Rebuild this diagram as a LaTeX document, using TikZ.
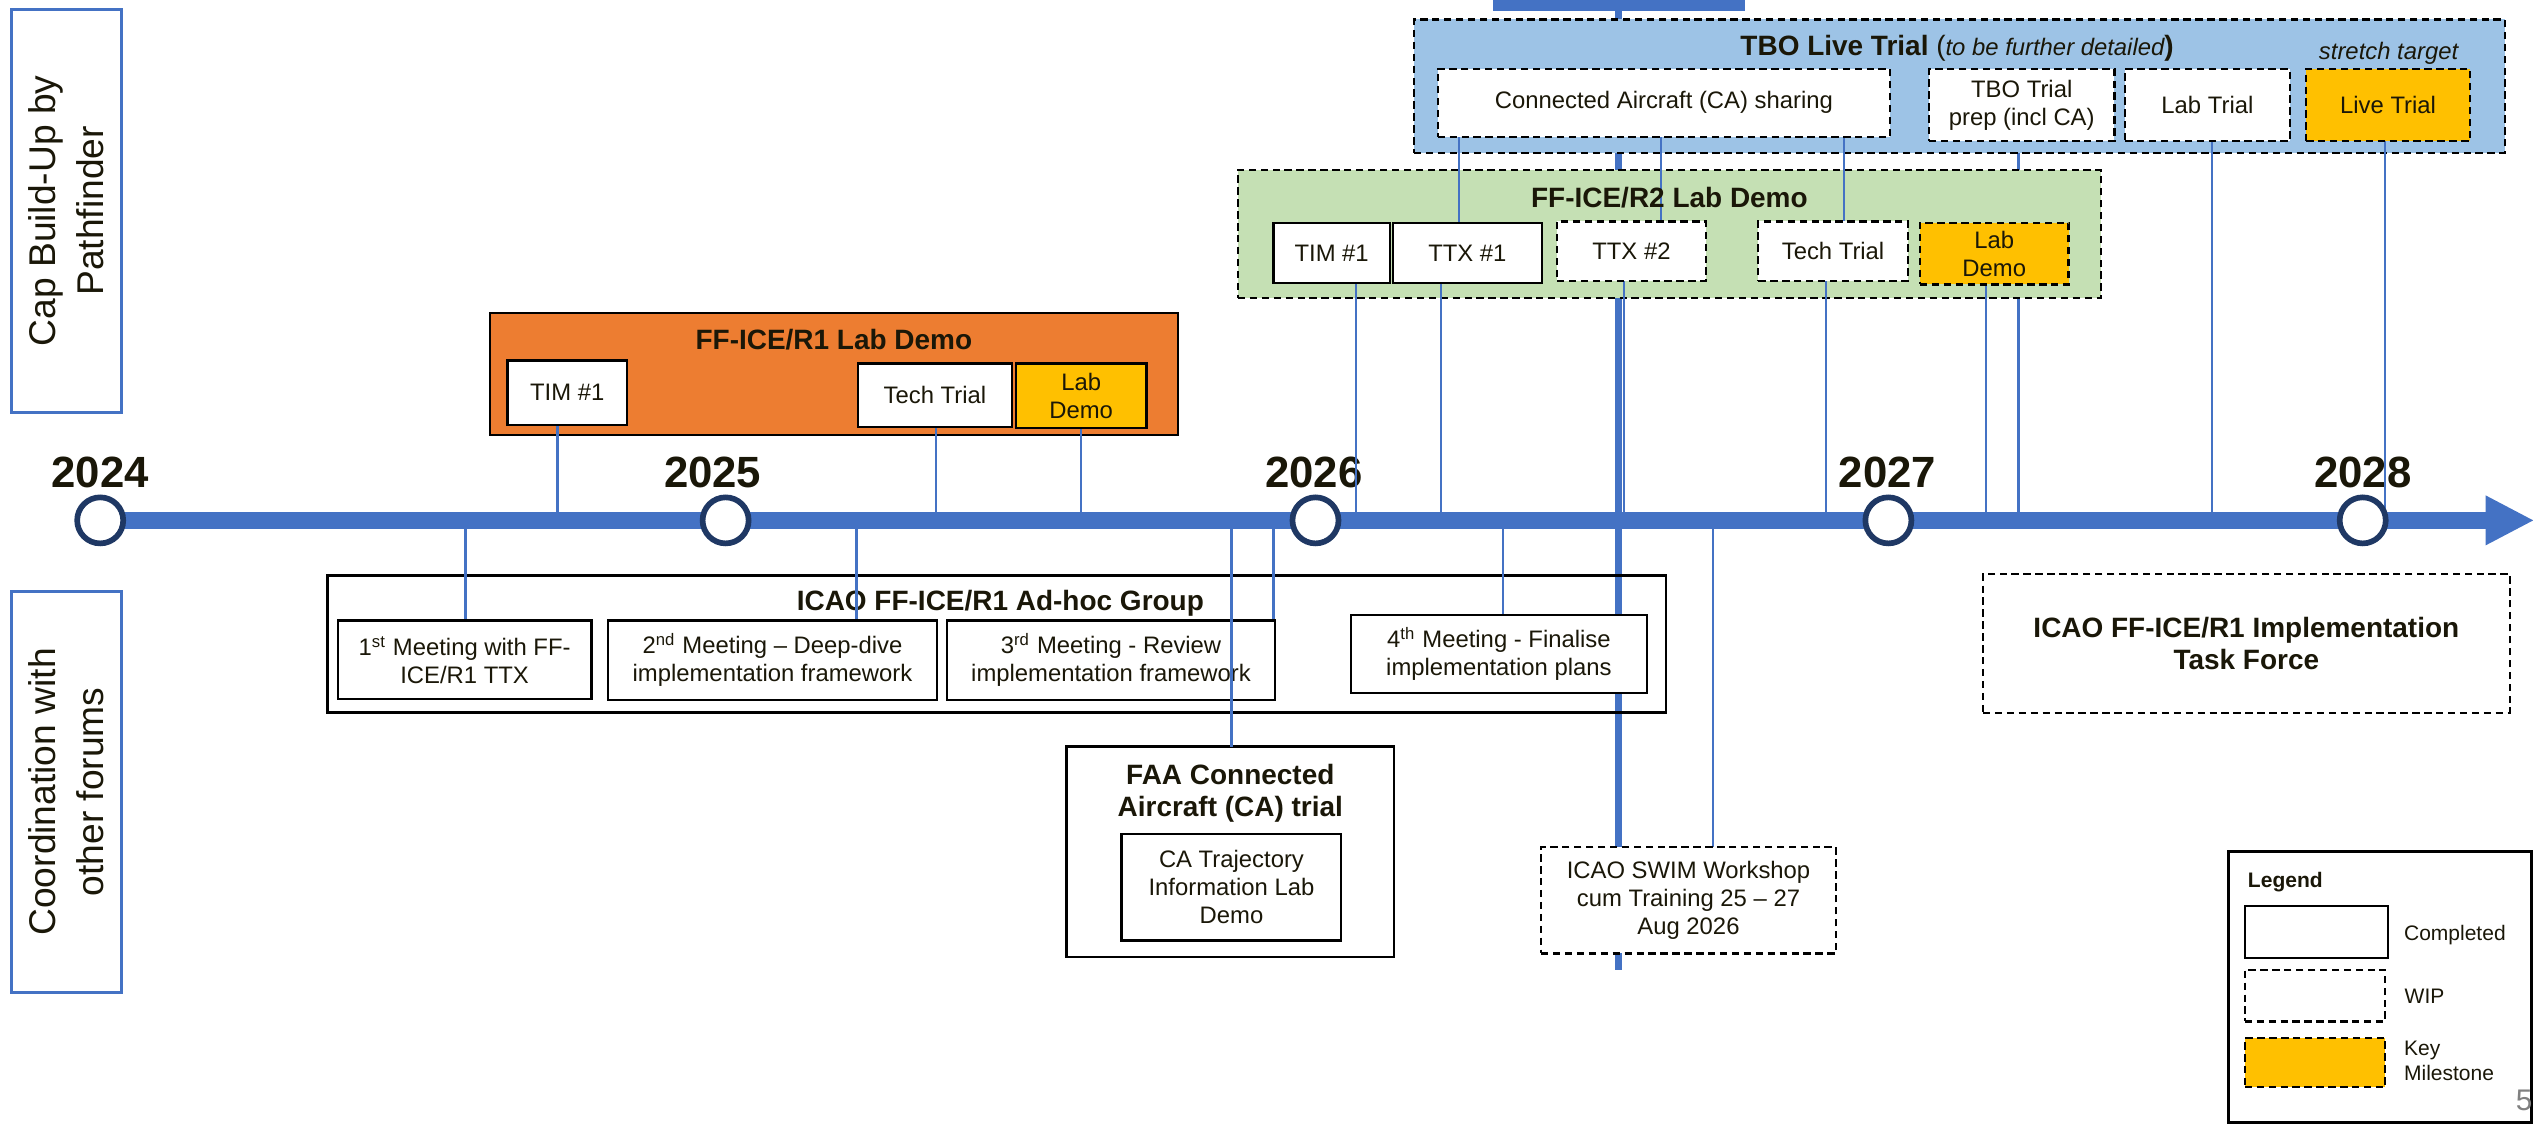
\documentclass[tikz,border=0pt]{standalone}
\usepackage{fontspec}
\setmainfont{Liberation Sans}
\definecolor{lineblue}{HTML}{4472C4}
\definecolor{navy}{HTML}{1F3864}
\definecolor{orng}{HTML}{ED7D31}
\definecolor{gold}{HTML}{FFC000}
\definecolor{ltblue}{HTML}{9DC3E6}
\definecolor{ltgreen}{HTML}{C5E0B4}
\definecolor{txt}{HTML}{1A1708}
\newcommand{\fReg}{\fontsize{8.4pt}{9.85pt}\selectfont}
\newcommand{\fHead}{\fontsize{9.85pt}{11.4pt}\selectfont\bfseries}
\newcommand{\fYear}{\fontsize{15.4pt}{17pt}\selectfont\bfseries}
\newcommand{\fSide}{\fontsize{13.1pt}{16.8pt}\selectfont}
\newcommand{\fLeg}{\fontsize{7.4pt}{8.8pt}\selectfont}
\pgfdeclarelayer{l0}
\pgfdeclarelayer{l1}
\pgfdeclarelayer{l2}
\pgfdeclarelayer{l4}
\pgfsetlayers{l0,l1,l2,main,l4}
\tikzset{
 wh/.style 2 args={minimum width=#1*0.02cm, minimum height=#2*0.02cm},
 base/.style={rectangle, inner sep=0pt, outer sep=0pt, text=txt, align=center, font=\fReg},
 done/.style={base, draw=black, fill=white, line width=0.8pt},
 wip/.style={base, draw=black, fill=white, line width=0.8pt, dash pattern=on 2.6pt off 1.6pt},
 mswip/.style={wip, fill=gold},
 msdone/.style={done, fill=gold},
 txtl/.style={inner sep=0pt, outer sep=0pt, text=txt, align=center},
 conn/.style={draw=lineblue, line width=0.75pt},
 todayl/.style={draw=lineblue, line width=2.45pt},
 sidebox/.style={base, draw=lineblue, fill=white, line width=1pt, font=\fSide, rotate=90},
 yearc/.style={circle, draw=navy, fill=white, line width=2pt, minimum size=28.5*0.02cm, inner sep=0pt},
 yearl/.style={txtl, font=\fYear},
}
\begin{document}
\begin{tikzpicture}[x=0.02cm,y=-0.02cm]
\useasboundingbox (0,0) rectangle (1568,696);
\coordinate (tl) at (0,322);
\coordinate (tlstart) at (62,322);
\coordinate (tipbase) at (1539,322);

% side labels
\node[sidebox, wh={249}{68}] (capL) at (41,130.5) {Cap Build-Up by\\Pathfinder};
\node[sidebox, wh={248}{68}] (coordL) at (41,490) {Coordination with\\other forums};

% TBO inner
\node[wip, wh={280}{42}] (ca) at (1029.6,63.6) {Connected Aircraft (CA) sharing};
\node[wip, wh={114.7}{44.6}] (prep) at (1251,65) {TBO Trial\\prep (incl CA)};
\node[wip, wh={101.8}{44.6}] (labtr) at (1365.9,65) {Lab Trial};
\node[mswip, wh={101.4}{44.6}] (livetr) at (1477.7,65) {Live Trial};
\node[txtl, font=\fReg\itshape] (stretch) at (1478,33) {stretch target};
\node[txtl, font=\fHead] (tbot) at (1211,30) {TBO Live Trial {\mdseries(}{\fReg\mdseries\itshape to be further detailed})};

% R2 inner
\node[done, wh={72}{37}] (r2tim) at (824,156.5) {TIM \#1};
\node[done, wh={92}{37}] (r2ttx1) at (908,156.5) {TTX \#1};
\node[wip, wh={92}{37}] (r2ttx2) at (1009.5,155.5) {TTX \#2};
\node[wip, wh={92.5}{37}] (r2tech) at (1134.25,155.5) {Tech Trial};
\node[mswip, wh={92}{38}] (r2lab) at (1234,157) {Lab\\Demo};
\node[txtl, font=\fHead] (r2t) at (1033,122.6) {FF-ICE/R2 Lab Demo};

% R1 inner
\node[done, wh={74}{40}] (r1tim) at (351,243) {TIM \#1};
\node[done, wh={95}{39}] (r1tech) at (578.5,244.5) {Tech Trial};
\node[msdone, wh={81}{40}] (r1lab) at (669,245) {Lab\\Demo};
\node[txtl, font=\fHead] (r1t) at (516,210.4) {FF-ICE/R1 Lab Demo};

% meetings
\node[done, wh={157}{48.6}] (m1) at (287.5,408.3) {1\textsuperscript{st} Meeting with FF-\\ICE/R1 TTX};
\node[done, wh={204}{49}] (m2) at (478,408.5) {2\textsuperscript{nd} Meeting – Deep-dive\\implementation framework};
\node[done, wh={203}{49}] (m3) at (687.5,408.5) {3\textsuperscript{rd} Meeting - Review\\implementation framework};
\node[done, wh={183}{48.4}] (m4) at (927.5,404.8) {4\textsuperscript{th} Meeting - Finalise\\implementation plans};

% FAA
\node[done, wh={202.6}{130}] (faa) at (761.3,527) {};
\node[txtl, font=\fHead] (faat) at (761.3,491) {FAA Connected\\Aircraft (CA) trial};
\node[done, wh={136}{66}] (faain) at (762,549) {CA Trajectory\\Information Lab\\Demo};

% SWIM
\node[wip, wh={182.4}{66}] (swim) at (1044.8,557) {ICAO SWIM Workshop\\cum Training 25 – 27\\Aug 2026};

% Task force
\node[wip, wh={326}{86}, font=\fHead] (itf) at (1390,398) {ICAO FF-ICE/R1 Implementation\\Task Force};

% Legend
\node[base, draw=black, fill=white, line width=1pt, wh={187.6}{167.7}] (leg) at (1472.8,610.9) {};
\node[txtl, font=\fLeg\bfseries, anchor=west] (legt) at (1391,545.6) {Legend};
\node[done, wh={88.5}{32.4}] (sw1) at (1433.25,576.8) {};
\node[wip, wh={87}{32}] (sw2) at (1432.5,616) {};
\node[mswip, wh={87}{30.2}] (sw3) at (1432.5,657.6) {};
\node[txtl, font=\fLeg, anchor=west] (lg1) at (1487.6,578.6) {Completed};
\node[txtl, font=\fLeg, anchor=west] (lg2) at (1488,616.7) {WIP};
\node[txtl, font=\fLeg, anchor=west, align=left] (lg3) at (1487.6,656.2) {Key\\Milestone};
\node[txtl, text=gray, font=\fontsize{10.5pt}{12pt}\selectfont, anchor=east] (pg) at (1567,681) {5};

% timeline
\draw[lineblue, line width=5.9pt] (tlstart) -- (tipbase);
\fill[lineblue] (1538,306.5) -- (1567.5,322) -- (1538,337.5) -- cycle;
\node[yearc] (y2024) at (62,322) {};
\node[yearc] (y2025) at (449,322) {};
\node[yearc] (y2026) at (814,322) {};
\node[yearc] (y2027) at (1168.5,322) {};
\node[yearc] (y2028) at (1462,322) {};

\begin{pgfonlayer}{l1}
\node[base, draw=black, fill=ltblue, line width=0.8pt, dash pattern=on 2.6pt off 1.6pt, wh={675}{82.5}] (tbo) at (1212.5,53.25) {};
\node[base, draw=black, fill=ltgreen, line width=0.8pt, dash pattern=on 2.6pt off 1.6pt, wh={534}{79.6}] (r2) at (1033,144.8) {};
\node[base, draw=black, fill=orng, line width=0.8pt, wh={426}{75.5}] (r1) at (516,231.25) {};
\node[base, draw=black, line width=0.9pt, wh={828.5}{85}] (adhoc) at (616.75,398.5) {};
\node[txtl, font=\fHead] (adt) at (619,373) {ICAO FF-ICE/R1 Ad-hoc Group};
\node[yearl] (l2024) at (62,292.4) {2024};
\node[yearl] (l2025) at (441,292.4) {2025};
\node[yearl] (l2026) at (813,292.4) {2026};
\node[yearl] (l2027) at (1168,292.4) {2027};
\node[yearl] (l2028) at (1462,292.4) {2028};
\end{pgfonlayer}

\begin{pgfonlayer}{l0}
\node[base, fill=lineblue, wh={156}{7}] (today) at (1002,3.5) {};
\coordinate (todayend) at (1001.5,600);
\draw[todayl] (1001.5,0 |- today.south) -- (todayend);
\draw[conn] (1249,0 |- prep.south) -- (1249,0 |- tl);
\end{pgfonlayer}

\begin{pgfonlayer}{l2}
\draw[conn] (903,0 |- ca.south) -- (903,0 |- r2ttx1.north);
\draw[conn] (1028,0 |- ca.south) -- (1028,0 |- r2ttx2.north);
\draw[conn] (1141,0 |- ca.south) -- (1141,0 |- r2tech.north);
\draw[conn] (1369,0 |- labtr.south) -- (1369,0 |- tl);
\draw[conn] (1476,0 |- livetr.south) -- (1476,0 |- tl);
\draw[conn] (839,0 |- r2tim.south) -- (839,0 |- tl);
\draw[conn] (891.7,0 |- r2ttx1.south) -- (891.7,0 |- tl);
\draw[conn] (1004.7,0 |- r2ttx2.south) -- (1004.7,0 |- tl);
\draw[conn] (1129.7,0 |- r2tech.south) -- (1129.7,0 |- tl);
\draw[conn] (1229,0 |- r2lab.south) -- (1229,0 |- tl);
\draw[conn] (345,0 |- r1tim.south) -- (345,0 |- tl);
\draw[conn] (579,0 |- r1tech.south) -- (579,0 |- tl);
\draw[conn] (669,0 |- r1lab.south) -- (669,0 |- tl);
\draw[conn] (288,0 |- tl) -- (288,0 |- m1.north);
\draw[conn] (530,0 |- tl) -- (530,0 |- m2.north);
\draw[conn] (788,0 |- tl) -- (788,0 |- m3.north);
\draw[conn] (930,0 |- tl) -- (930,0 |- m4.north);
\draw[conn] (1060,0 |- tl) -- (1060,0 |- swim.north);
\end{pgfonlayer}

\begin{pgfonlayer}{l4}
\draw[conn] (762,0 |- tl) -- (762,0 |- faa.north);
\end{pgfonlayer}
\end{tikzpicture}
\end{document}
